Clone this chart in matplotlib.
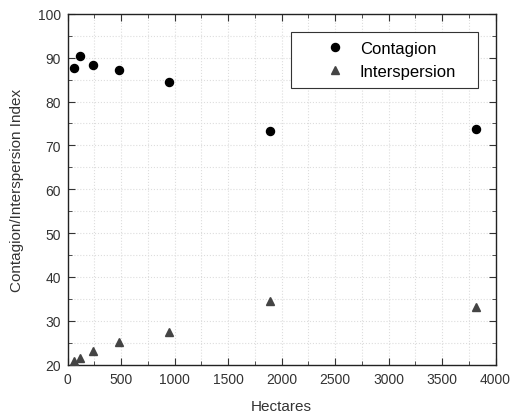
import numpy as np
import matplotlib.pyplot as plt
from matplotlib.ticker import MultipleLocator

plt.rcParams['font.family'] = ['Liberation Sans', 'DejaVu Sans']

# data
hectares = [59, 116, 240, 475, 950, 1895, 3815]
contagion = [87.7, 90.5, 88.3, 87.2, 84.5, 73.2, 73.7]
interspersion = [20.9, 21.5, 23.1, 25.1, 27.4, 34.6, 33.2]

fig = plt.figure(figsize=(5.13, 4.14), dpi=100)
ax = fig.add_axes([0.132, 0.117, 0.834, 0.847])

ax.plot(hectares, contagion, 'o', color='black', markersize=5.8, label='Contagion', zorder=3)
ax.plot(hectares, interspersion, '^', color='#444444', markersize=6, label='Interspersion', zorder=3)

ax.set_xlim(0, 4000)
ax.set_ylim(20, 100)
ax.xaxis.set_major_locator(MultipleLocator(500))
ax.xaxis.set_minor_locator(MultipleLocator(250))
ax.yaxis.set_major_locator(MultipleLocator(10))
ax.yaxis.set_minor_locator(MultipleLocator(5))
ax.tick_params(which='both', direction='in', top=True, right=True, labelsize=10, colors='#333333')
ax.tick_params(which='major', length=5, pad=5)
ax.tick_params(which='minor', length=3)
ax.grid(which='both', color='#dddddd', linestyle=':', linewidth=0.8)
for s in ax.spines.values():
    s.set_linewidth(1.0)
    s.set_color('#222222')

ax.set_xlabel('Hectares', fontsize=11, color='#333333', labelpad=10)
ax.set_ylabel('Contagion/Interspersion Index', fontsize=11, color='#333333', labelpad=10)

leg = ax.legend(loc='upper left', bbox_to_anchor=(0.523, 0.794, 0.435, 0.155), mode='expand',
                fontsize=12, fancybox=False, edgecolor='#333333', framealpha=1,
                handlelength=4.08, handletextpad=-0.53, borderpad=0.55, labelspacing=0.5,
                borderaxespad=0)
leg.get_frame().set_linewidth(0.8)

plt.savefig('out.png', dpi=100)
